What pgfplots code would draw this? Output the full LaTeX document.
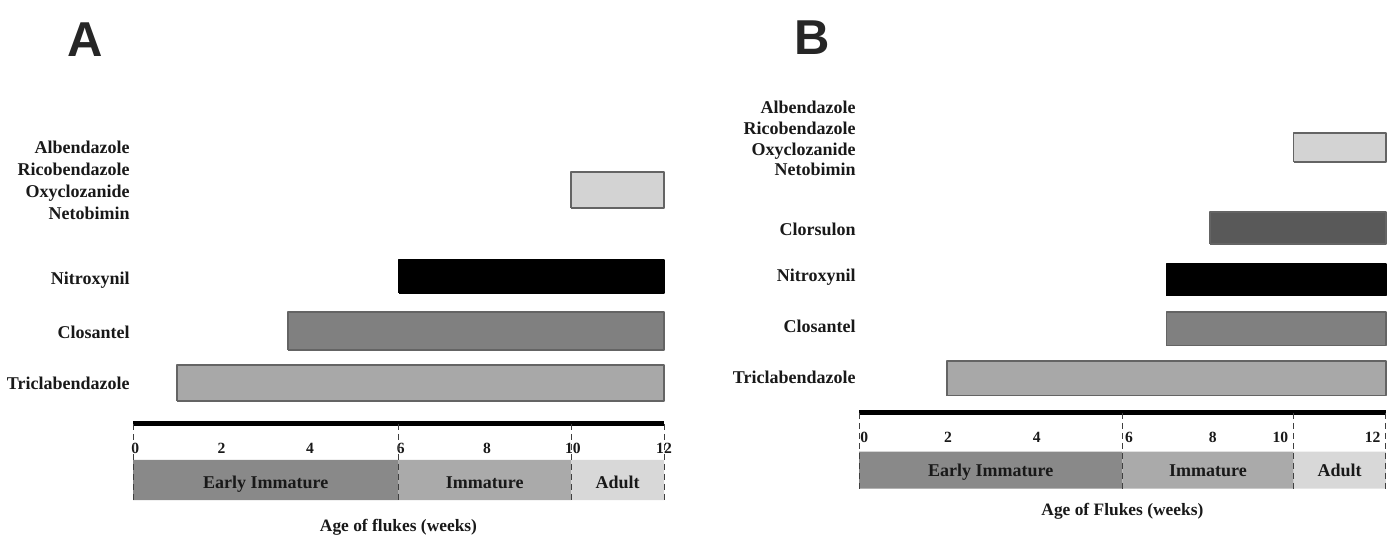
\documentclass[border=0pt]{standalone}
\usepackage{fontspec}
\setmainfont{Liberation Serif}
\newfontfamily\lettersf{Liberation Sans}
\usepackage{pgfplots}
\pgfplotsset{compat=1.18}
\definecolor{albc}{RGB}{211,211,211}
\definecolor{closc}{RGB}{128,128,128}
\definecolor{tricc}{RGB}{168,168,168}
\definecolor{clorc}{RGB}{89,89,89}
\definecolor{bordc}{RGB}{100,100,100}
\definecolor{earlyc}{RGB}{137,137,137}
\definecolor{immc}{RGB}{170,170,170}
\definecolor{adultc}{RGB}{216,216,216}
\definecolor{txtc}{RGB}{25,25,25}
\pgfplotsset{
  flukestyle/.style={
    clip=false,
    axis x line*=bottom, axis y line*=left,
    x axis line style={line width=2.5pt,-},
    y axis line style={draw=none},
    major tick length=0pt,
    xmin=0, xmax=12,
    xticklabel style={font=\bfseries\fontsize{7.8}{9}\selectfont, text=txtc, yshift=-4.3pt, text height=1.5ex, text depth=0pt},
    yticklabel style={font=\bfseries\fontsize{9}{11}\selectfont, text=txtc, align=right, inner sep=1.5pt},
  },
  barst/.style={fill=#1, draw=bordc, line width=0.8pt, line join=round},
  dashst/.style={densely dashed, draw=black!75, line width=0.5pt},
}
\tikzset{stagelab/.style={font=\bfseries\fontsize{9}{11}\selectfont, text=txtc, anchor=base}}
\begin{document}
\begin{tikzpicture}
\useasboundingbox (0,0) rectangle (695.5pt,267.5pt);
\node[font=\lettersf\bfseries\fontsize{24.5}{28}\selectfont, text=black!85] at (42.5pt,247.5pt) {A};
\node[font=\lettersf\bfseries\fontsize{24.5}{28}\selectfont, text=black!85] at (406pt,248.5pt) {B};

% ---------------- Panel A ----------------
\begin{axis}[flukestyle,
  at={(66.5pt,55.5pt)}, anchor=south west,
  x=22.125pt, y=26.5pt,
  ymin=0.226, ymax=5.3,
  xtick={0.05,2,4,6.05,8,9.94,12},
  xticklabels={0,2,4,6,8,10,12},
  ytick={1,1.96,2.94,4.83},
  yticklabels={Triclabendazole,Closantel,Nitroxynil,{Albendazole\\Ricobendazole\\Oxyclozanide\\Netobimin}},
]
\addplot[barst=tricc] coordinates {(1,0.66) (12,0.66) (12,1.34) (1,1.34) (1,0.66)};
\addplot[barst=closc] coordinates {(3.5,1.62) (12,1.62) (12,2.34) (3.5,2.34) (3.5,1.62)};
\addplot[barst=black, draw=black] coordinates {(6,2.70) (12,2.70) (12,3.32) (6,3.32) (6,2.70)};
\addplot[barst=albc] coordinates {(9.9,4.30) (12,4.30) (12,4.98) (9.9,4.98) (9.9,4.30)};
% stages
\addplot[fill=earlyc, draw=none] coordinates {(0,-0.45) (6,-0.45) (6,-1.21) (0,-1.21) (0,-0.45)};
\addplot[fill=immc, draw=none] coordinates {(6,-0.45) (9.9,-0.45) (9.9,-1.21) (6,-1.21) (6,-0.45)};
\addplot[fill=adultc, draw=none] coordinates {(9.9,-0.45) (12,-0.45) (12,-1.21) (9.9,-1.21) (9.9,-0.45)};
\addplot[dashst] coordinates {(0,0.226) (0,-1.21)};
\addplot[dashst] coordinates {(6,0.226) (6,-1.21)};
\addplot[dashst] coordinates {(9.9,0.226) (9.9,-1.21)};
\addplot[dashst] coordinates {(12,0.226) (12,-1.21)};
\node[stagelab] at (axis cs:3,-0.99) {Early Immature};
\node[stagelab] at (axis cs:7.95,-0.99) {Immature};
\node[stagelab] at (axis cs:10.95,-0.99) {Adult};
\node[font=\bfseries\fontsize{8.7}{11}\selectfont, text=txtc] at (axis cs:6,-1.72) {Age of flukes (weeks)};
\end{axis}

% ---------------- Panel B ----------------
\begin{axis}[flukestyle,
  at={(429.5pt,61pt)}, anchor=south west,
  x=21.95pt, y=24.75pt,
  ymin=0.29, ymax=6.1,
  xtick={0.12,2.03,4.05,6.15,8.06,9.6,11.7},
  xticklabels={0,2,4,6,8,10,12},
  ytick={1.02,2.05,3.04,3.99,5.83},
  yticklabels={Triclabendazole,Closantel,Nitroxynil,Clorsulon,{Albendazole\\Ricobendazole\\Oxyclozanide\\Netobimin}},
  yticklabel style={font=\bfseries\fontsize{9}{10.35}\selectfont},
]
\addplot[barst=tricc] coordinates {(2,0.64) (12,0.64) (12,1.34) (2,1.34) (2,0.64)};
\addplot[barst=closc] coordinates {(7,1.65) (12,1.65) (12,2.33) (7,2.33) (7,1.65)};
\addplot[barst=black, draw=black] coordinates {(7,2.66) (12,2.66) (12,3.30) (7,3.30) (7,2.66)};
\addplot[barst=clorc] coordinates {(8,3.71) (12,3.71) (12,4.35) (8,4.35) (8,3.71)};
\addplot[barst=albc] coordinates {(9.9,5.36) (12,5.36) (12,5.95) (9.9,5.95) (9.9,5.36)};
% stages
\addplot[fill=earlyc, draw=none] coordinates {(0,-0.49) (6,-0.49) (6,-1.24) (0,-1.24) (0,-0.49)};
\addplot[fill=immc, draw=none] coordinates {(6,-0.49) (9.9,-0.49) (9.9,-1.24) (6,-1.24) (6,-0.49)};
\addplot[fill=adultc, draw=none] coordinates {(9.9,-0.49) (12,-0.49) (12,-1.24) (9.9,-1.24) (9.9,-0.49)};
\addplot[dashst] coordinates {(0,0.29) (0,-1.24)};
\addplot[dashst] coordinates {(6,0.29) (6,-1.24)};
\addplot[dashst] coordinates {(9.9,0.29) (9.9,-1.24)};
\addplot[dashst] coordinates {(12,0.29) (12,-1.24)};
\node[stagelab] at (axis cs:3,-0.99) {Early Immature};
\node[stagelab] at (axis cs:7.95,-0.99) {Immature};
\node[stagelab] at (axis cs:10.95,-0.99) {Adult};
\node[font=\bfseries\fontsize{8.7}{11}\selectfont, text=txtc] at (axis cs:6,-1.69) {Age of Flukes (weeks)};
\end{axis}
\end{tikzpicture}
\end{document}
